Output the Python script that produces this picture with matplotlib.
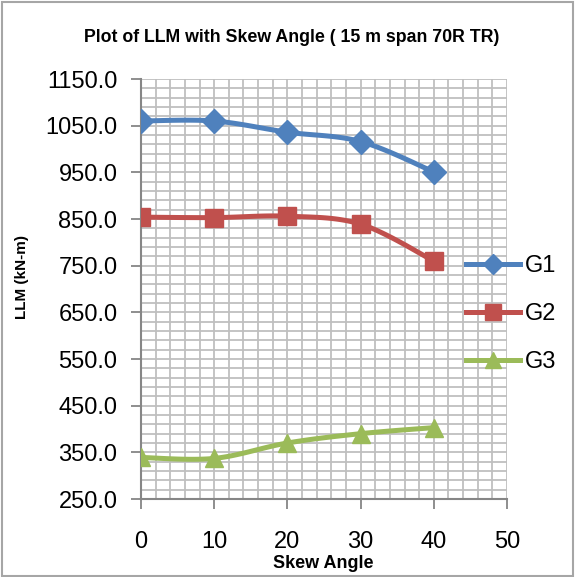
import numpy as np
import matplotlib.pyplot as plt
from matplotlib.ticker import MultipleLocator, FormatStrFormatter
from matplotlib.patches import Rectangle

# 데이터
skew = [0, 10, 20, 30, 40]
g1 = [1060, 1060, 1036, 1016, 951]
g2 = [854, 853, 856, 839, 760]
g3 = [339, 337, 370, 390, 403]
names = ["G1", "G2", "G3"]
colors = ["#4F81BD", "#C0504D", "#9BBB59"]
markers = ["D", "s", "^"]

plt.rcParams['font.family'] = ['Liberation Sans', 'DejaVu Sans']


def smooth(xs, ys, n=30):
    # 엑셀식 부드러운 선 (베지어 곡선)
    p = np.column_stack([xs, ys]).astype(float)
    ext = np.vstack([p[0], p, p[-1]])
    out = []
    t = np.linspace(0, 1, n)[:, None]
    for i in range(len(p) - 1):
        a, b = ext[i + 1], ext[i + 2]
        c1 = a + (ext[i + 2] - ext[i]) / 6
        c2 = b - (ext[i + 3] - ext[i + 1]) / 6
        seg = (1 - t) ** 3 * a + 3 * (1 - t) ** 2 * t * c1 + 3 * (1 - t) * t ** 2 * c2 + t ** 3 * b
        out.append(seg)
    s = np.vstack(out)
    return s[:, 0], s[:, 1]


fig = plt.figure(figsize=(5.75, 5.77), dpi=100)
ax = fig.add_axes([141 / 575, 1 - 499 / 577, 366 / 575, 420 / 577])

for ys, name, c, m in zip([g1, g2, g3], names, colors, markers):
    sx, sy = smooth(skew, ys)
    ax.plot(sx, sy, color=c, lw=3.6, solid_capstyle='round', zorder=3)
    ms = 12.5 if m == "D" else 13.5
    ax.plot(skew, ys, linestyle='none', marker=m, markersize=ms, color=c, zorder=4)
    # 범례용
    ax.plot([], [], color=c, lw=3.6, marker=m, markersize=ms * 0.85, label=name)

ax.set_xlim(0, 50)
ax.set_ylim(250, 1150)
ax.xaxis.set_major_locator(MultipleLocator(10))
ax.xaxis.set_minor_locator(MultipleLocator(2))
ax.yaxis.set_major_locator(MultipleLocator(100, offset=50))
ax.yaxis.set_minor_locator(MultipleLocator(20, offset=10))
ax.yaxis.set_major_formatter(FormatStrFormatter('%.1f'))
ax.grid(which='both', color='#BFBFBF', lw=1.3)
ax.set_axisbelow(True)

for s in ['top', 'right']:
    ax.spines[s].set_visible(False)
for s in ['left', 'bottom']:
    ax.spines[s].set_color('#868686')
    ax.spines[s].set_linewidth(1.5)

ax.tick_params(which='major', length=7, width=1.3, color='#868686', labelsize=17)
ax.tick_params(which='minor', length=0)
ax.tick_params(axis='x', pad=16)
ax.tick_params(axis='y', pad=10)

ax.legend(loc='center left', bbox_to_anchor=(0.888, 0.44), frameon=False, fontsize=17,
          handlelength=2.3, labelspacing=1.1, handletextpad=0.2, borderaxespad=0,
          borderpad=0)

fig.text(292 / 575, 1 - 37 / 577, "Plot of LLM with Skew Angle ( 15 m span 70R TR)",
         ha='center', va='center', fontsize=12.8, fontweight='bold')
fig.text(323 / 575, 1 - 563 / 577, "Skew Angle", ha='center', va='center',
         fontsize=13, fontweight='bold')
fig.text(22 / 575, 1 - 277 / 577, "LLM (kN-m)", ha='center', va='center', rotation=90,
         fontsize=11, fontweight='bold')

# 바깥 테두리
fig.patches.append(Rectangle((0.004, 0.002), 0.992, 0.994, transform=fig.transFigure,
                             fill=False, edgecolor='#A6A6A6', lw=1.5))

fig.savefig("out.png", dpi=100)
